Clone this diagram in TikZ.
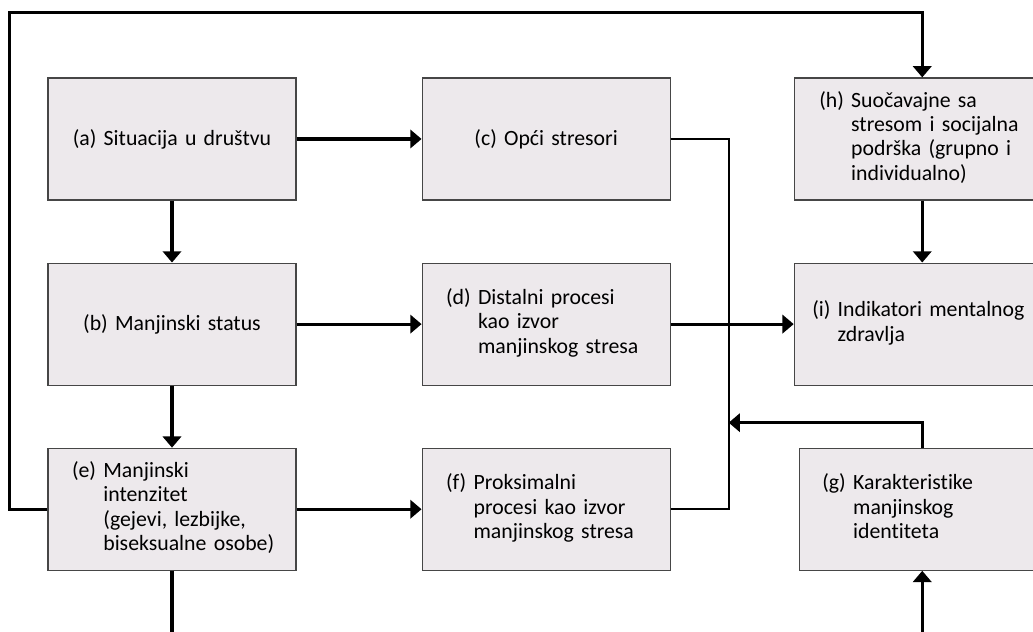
\documentclass[tikz,border=0pt]{standalone}
\usepackage{fontspec}
\setmainfont[Ligatures=NoCommon]{Carlito}
\usetikzlibrary{arrows.meta, positioning, calc}
\definecolor{boxfill}{RGB}{237,233,236}
\definecolor{boxline}{RGB}{70,70,70}
\newcommand{\hanglbl}[2]{\mbox{#1\ \begin{tabular}[t]{@{}l@{}}#2\end{tabular}}}
\tikzset{%
  box/.style={draw=boxline, line width=0.8pt, fill=boxfill,
    minimum width=6.2cm, minimum height=3.05cm,
    inner xsep=0.6cm, text width=5cm, align=left,
    font=\fontsize{15.5}{17.2}\selectfont},
  centred/.style={align=center},
  line/.style={line width=1.4pt},
  bar/.style={line width=2.2pt},
  flow/.style={bar, -{Triangle[width=13pt,length=8pt]}}
}
\begin{document}
\begin{tikzpicture}
  \useasboundingbox (0,0) rectangle (25.825,15.8);
  % left column
  \node[box, centred] (situation) at (4.3,12.325) {(a) Situacija u društvu};
  \node[box, centred, below=1.55cm of situation] (status) {(b) Manjinski status};
  \node[box, below=1.55cm of status] (intensity)
    {\hanglbl{(e)}{Manjinski\\intenzitet\\(gejevi, lezbijke,\\biseksualne osobe)}};
  % middle column
  \node[box, centred, right=3.125cm of situation] (general) {(c) Opći stresori};
  \node[box, right=3.125cm of status] (distal)
    {\hanglbl{(d)}{Distalni procesi\\kao izvor\\manjinskog stresa}};
  \node[box, right=3.125cm of intensity] (proximal)
    {\hanglbl{(f)}{Proksimalni\\procesi kao izvor\\manjinskog stresa}};
  % right column
  \node[box, minimum width=6.4cm, inner xsep=0.625cm, text width=5.15cm,
    right=3.075cm of general] (coping)
    {\hanglbl{(h)}{Suočavajne sa\\stresom i socijalna\\podrška (grupno i\\individualno)}};
  \node[box, minimum width=6.4cm, inner xsep=0.45cm, text width=5.5cm,
    right=3.075cm of distal] (health)
    {\hanglbl{(i)}{Indikatori mentalnog\\zdravlja}};
  \node[box, minimum width=6.15cm, inner xsep=0.575cm, text width=5cm,
    right=3.2cm of proximal] (identity)
    {\hanglbl{(g)}{Karakteristike\\manjinskog\\identiteta}};

  \coordinate (merge) at ($(proximal.east)+(1.45,0)$);
  \coordinate (loop) at ($(intensity.west)+(-0.95,0)$);
  \coordinate (peak) at ($(coping.north)+(0,1.625)$);
  \coordinate (knee) at ($(identity.north)+(0,0.625)$);
  \coordinate (drop) at ($(intensity.south)+(0,-2)$);
  \coordinate (rise) at ($(identity.south)+(0,-2)$);

  \draw[line] (general.east) -| (merge) -- (proximal.east);
  \draw[flow] (intensity.west) -- (loop) |- (peak) -- (coping.north);
  \draw[flow] (situation) -- (general);
  \draw[flow] (situation) -- (status);
  \draw[flow] (status) -- (intensity);
  \draw[flow] (status) -- (distal);
  \draw[flow] (intensity) -- (proximal);
  \draw[flow] (coping) -- (health);
  \draw[flow] (distal) -- (health);
  \draw[flow] (identity.north) -- (knee) -- (knee -| merge);
  \draw[bar] (intensity.south) -- (drop);
  \draw[flow] (rise) -- (identity.south);
\end{tikzpicture}
\end{document}
